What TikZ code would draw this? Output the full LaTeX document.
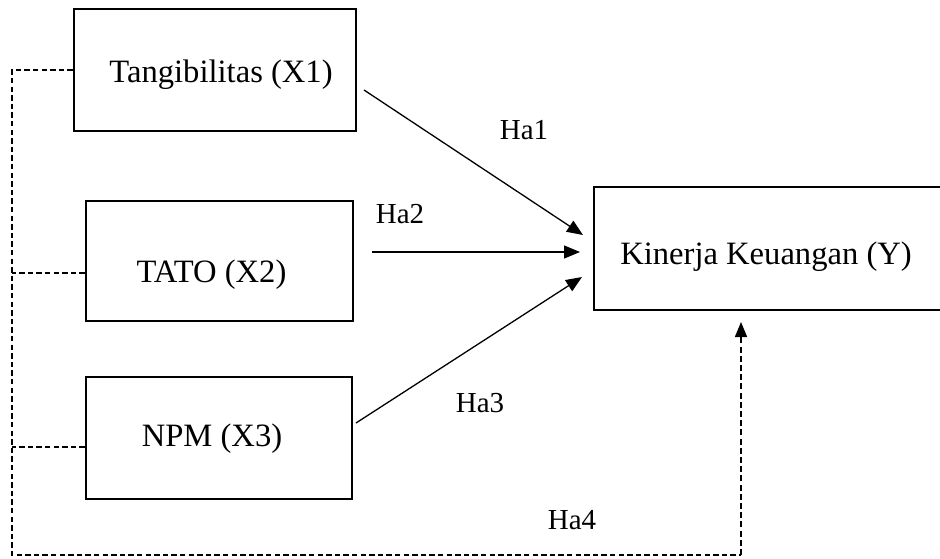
\documentclass[tikz,border=0pt]{standalone}
\usepackage{fontspec}
\setmainfont{Liberation Serif}
\usetikzlibrary{arrows.meta}
\begin{document}
\begin{tikzpicture}[x=0.5pt,y=-0.5pt,
  box/.style={draw,line width=1.2pt,inner sep=0pt,rectangle},
  mainlbl/.style={anchor=base,inner sep=0pt,font=\fontsize{16.3}{19}\selectfont},
  halbl/.style={anchor=base,inner sep=0pt,font=\fontsize{14.5}{17}\selectfont},
  arr/.style={line width=0.65pt,-{Triangle[length=8pt,width=6.5pt]}},
  dashl/.style={line width=0.85pt,dash pattern=on 2.7pt off 1.6pt},
  dasharr/.style={line width=0.8pt,dash pattern=on 3pt off 1.6pt,-{Triangle[length=7.5pt,width=6pt]}}]
\clip (0,0) rectangle (940,558);
\fill[white] (0,0) rectangle (940,558);
% boxes
\node[box,minimum width=141pt,minimum height=61pt] (x1) at (215,70) {};
\node[box,minimum width=133.5pt,minimum height=60pt] (x2) at (219.5,261) {};
\node[box,minimum width=133pt,minimum height=61pt] (x3) at (219,438) {};
\node[box,minimum width=178pt,minimum height=61.5pt] (y) at (772,248.5) {};
% texts
\node[mainlbl] (t1) at (221,82) {Tangibilitas (X1)};
\node[mainlbl] (t2) at (211.5,282) {TATO (X2)};
\node[mainlbl] (t3) at (212,446) {NPM (X3)};
\node[mainlbl] (ty) at (766,264) {Kinerja Keuangan (Y)};
\node[halbl] (h1) at (524,139) {Ha1};
\node[halbl] (h2) at (400,223) {Ha2};
\node[halbl] (h3) at (480,412) {Ha3};
\node[halbl] (h4) at (572,529) {Ha4};
% arrow end points
\coordinate (a1s) at (364,90);
\coordinate (a1e) at (583,235);
\coordinate (a2s) at (372,252);
\coordinate (a2e) at (580,252);
\coordinate (a3s) at (356,423);
\coordinate (a3e) at (582,277);
\draw[arr] (a1s) -- (a1e);
\draw[arr] (a2s) -- (a2e);
\draw[arr] (a3s) -- (a3e);
% dashed connections
\coordinate (lt) at (12,70);
\coordinate (lb) at (12,555);
\coordinate (br) at (741,555);
\coordinate (tip4) at (741,322);
\draw[dashl] (x1.west) -- (lt) -- (lb) -- (br);
\draw[dasharr] (br) -- (tip4);
\draw[dashl] ([yshift=-6pt]x2.west) -- (12,273);
\draw[dashl] ([yshift=-4.5pt]x3.west) -- (12,447);
\end{tikzpicture}
\end{document}
